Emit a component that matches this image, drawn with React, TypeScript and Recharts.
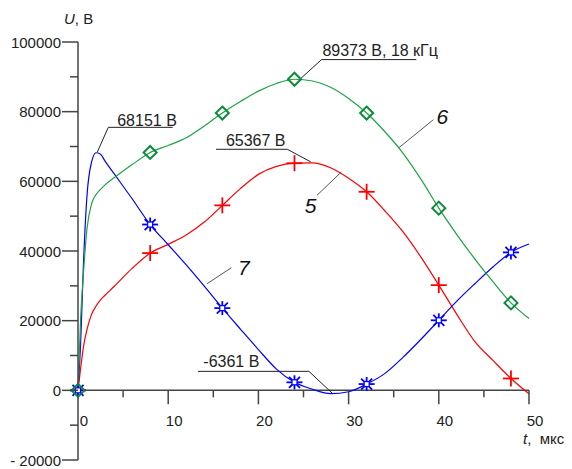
import React from 'react';
import { LineChart, Line, XAxis, YAxis, ReferenceLine, ReferenceDot } from 'recharts';

const times = [0, 0.3, 0.6, 1, 1.5, 2, 2.5, 3, 4, 6, 8, 10, 12, 14, 16, 18, 20, 22, 24, 26, 28, 30, 32, 34, 36, 38, 40, 42, 44, 46, 48, 50];
// curve 5 (red)
const curve5 = [0, 6500, 12400, 17500, 21800, 24200, 26000, 27300, 29800, 35000, 39400, 41900, 44600, 48300, 53100, 57900, 62000, 64300, 65200, 65300, 63900, 60900, 57000, 51600, 45600, 38300, 30200, 21800, 14000, 8600, 3400, -1000];
// curve 6 (green)
const curve6 = [0, 21000, 33500, 46500, 53500, 56200, 57700, 59000, 61000, 64800, 68300, 70300, 72500, 75900, 79600, 82900, 85900, 88100, 89300, 88800, 87000, 83800, 79600, 74300, 68200, 60700, 52300, 44700, 37700, 31200, 25100, 20600];
// curve 7 (blue)
const curve7 = [0, 14000, 36000, 56000, 65500, 68200, 67800, 65800, 62200, 55000, 47600, 41800, 36000, 29900, 23600, 17600, 11700, 6100, 2300, 300, -950, -400, 1800, 4800, 9400, 14600, 20100, 25600, 30600, 35400, 39600, 42000];
const markerTimes = [0, 8, 16, 24, 32, 40, 48];

const yTicks = [-20000, -10000, 0, 10000, 20000, 30000, 40000, 50000, 60000, 70000, 80000, 90000, 100000];
const yTickLabels = ['- 20000', '', '0', '', '20000', '', '40000', '', '60000', '', '80000', '', '100000'];
const xTicks = [0, 5, 10, 15, 20, 25, 30, 35, 40, 45, 50];
const xTickLabels = ['0', '', '10', '', '20', '', '30', '', '40', '', '50'];

const valueNotes = [
  { text: '68151 В', tx: 7.65, ty: 77500, x1: 3.36, x2: 10.5, y: 75500, fromX: 3.36, px: 2.14, py: 68400 },
  { text: '89373 В, 18 кГц', tx: 33.5, ty: 97600, x1: 27.0, x2: 37.5, y: 94950, fromX: 27.0, px: 24.6, py: 89300 },
  { text: '65367 В', tx: 19.7, ty: 71800, x1: 15.3, x2: 23.2, y: 69200, fromX: 23.2, px: 25.8, py: 65600 },
  { text: '-6361 В', tx: 17.0, ty: 8300, x1: 13.3, x2: 25.6, y: 5450, fromX: 25.6, px: 28.24, py: -950 },
];

const curveNotes = [
  { text: '6', tx: 40.4, ty: 78700, x1: 39.4, y1: 77700, x2: 35.6, y2: 69700 },
  { text: '5', tx: 25.8, ty: 53100, x1: 26.5, y1: 56000, x2: 29.2, y2: 62700 },
  { text: '7', tx: 18.4, ty: 35400, x1: 17.0, y1: 35200, x2: 14.3, y2: 30600 },
];

const FONT = '"Liberation Sans", Arial, sans-serif';

const isMarker = (t: number) => markerTimes.includes(t);

const redDot = (p: any) => {
  const { cx, cy, payload, index } = p;
  if (!isMarker(payload.t)) return <g key={'r' + index} />;
  return (
    <g key={'r' + index} stroke="#ff0000" strokeWidth={1.8}>
      <line x1={cx - 8} x2={cx + 8} y1={cy} y2={cy} />
      <line x1={cx} x2={cx} y1={cy - 8} y2={cy + 8} />
    </g>
  );
};

const greenDot = (p: any) => {
  const { cx, cy, payload, index } = p;
  if (!isMarker(payload.t)) return <g key={'g' + index} />;
  return (
    <path
      key={'g' + index}
      d={`M${cx},${cy - 6.5} L${cx + 6.5},${cy} L${cx},${cy + 6.5} L${cx - 6.5},${cy} Z`}
      fill="none"
      stroke="#0b8a3a"
      strokeWidth={2}
    />
  );
};

const blueDot = (p: any) => {
  const { cx, cy, payload, index } = p;
  if (!isMarker(payload.t)) return <g key={'b' + index} />;
  return (
    <g key={'b' + index} stroke="#0000ff" strokeWidth={1.8}>
      <line x1={cx - 8} x2={cx + 8} y1={cy} y2={cy} />
      <line x1={cx} x2={cx} y1={cy - 7} y2={cy + 7} />
      <line x1={cx - 5.5} x2={cx + 5.5} y1={cy - 5.5} y2={cy + 5.5} />
      <line x1={cx - 5.5} x2={cx + 5.5} y1={cy + 5.5} y2={cy - 5.5} />
      <rect x={cx - 2.5} y={cy - 2.5} width={5} height={5} fill="#ffffff" strokeWidth={1.2} />
    </g>
  );
};

const YTick = (props: any) => {
  const { x, y, payload, index } = props;
  const label = yTickLabels[yTicks.indexOf(payload.value)] || '';
  const major = label !== '';
  return (
    <g key={'yt' + index}>
      <line x1={x - (major ? 16 : 8)} x2={x} y1={y} y2={y} stroke="#444" strokeWidth={1.5} />
      {major && (
        <text x={x - 17} y={y} textAnchor="end" dominantBaseline="central" fontSize={15} fontFamily={FONT} fill="#222">
          {label}
        </text>
      )}
    </g>
  );
};

export default function App() {
  const data = times.map((t, i) => ({ t, s5: curve5[i], s6: curve6[i], s7: curve7[i] }));
  return (
    <div style={{ position: 'relative', width: 572, height: 469, fontFamily: FONT }}>
      <LineChart width={572} height={469} data={data} margin={{ top: 34, right: 51, bottom: 17, left: 0 }}>
        <XAxis dataKey="t" type="number" domain={[0, 50]} hide />
        <YAxis
          type="number"
          domain={[-20000, 100000]}
          ticks={yTicks}
          interval={0}
          width={70}
          tickSize={0}
          tickMargin={0}
          tickLine={false}
          axisLine={{ stroke: '#444', strokeWidth: 1.5 }}
          tick={(p: any) => <YTick {...p} />}
        />
        <ReferenceLine y={0} stroke="#444" strokeWidth={1.5} />
        {xTicks.map((v, i) => (
          <ReferenceDot
            key={'xt' + v}
            x={v}
            y={0}
            r={0}
            ifOverflow="visible"
            shape={(p: any) => (
              <g>
                {v !== 0 && (
                  <line x1={p.cx} x2={p.cx} y1={p.cy} y2={p.cy + (xTickLabels[i] ? 14 : 7)} stroke="#444" strokeWidth={1.5} />
                )}
                {xTickLabels[i] && (
                  <text x={p.cx + 6} y={p.cy + 30} textAnchor="middle" dominantBaseline="central" fontSize={15} fontFamily={FONT} fill="#222">
                    {xTickLabels[i]}
                  </text>
                )}
              </g>
            )}
          />
        ))}
        {valueNotes.map((n) => (
          <ReferenceLine key={'u' + n.text} segment={[{ x: n.x1, y: n.y }, { x: n.x2, y: n.y }]} stroke="#222" strokeWidth={1} ifOverflow="visible" />
        ))}
        {valueNotes.map((n) => (
          <ReferenceLine key={'l' + n.text} segment={[{ x: n.fromX, y: n.y }, { x: n.px, y: n.py }]} stroke="#222" strokeWidth={1} ifOverflow="visible" />
        ))}
        {curveNotes.map((n) => (
          <ReferenceLine key={'cl' + n.text} segment={[{ x: n.x1, y: n.y1 }, { x: n.x2, y: n.y2 }]} stroke="#555" strokeWidth={1} ifOverflow="visible" />
        ))}
        <Line type="monotone" dataKey="s5" stroke="#ff0000" strokeWidth={1.2} dot={redDot} activeDot={false} isAnimationActive={false} />
        <Line type="monotone" dataKey="s7" stroke="#0000ff" strokeWidth={1.2} dot={blueDot} activeDot={false} isAnimationActive={false} />
        <Line type="monotone" dataKey="s6" stroke="#1fa343" strokeWidth={1.2} dot={greenDot} activeDot={false} isAnimationActive={false} />
        {valueNotes.map((n) => (
          <ReferenceDot
            key={'t' + n.text}
            x={n.tx}
            y={n.ty}
            r={0}
            ifOverflow="visible"
            shape={(p: any) => (
              <text x={p.cx} y={p.cy} textAnchor="middle" dominantBaseline="central" fontSize={16} fontFamily={FONT} fill="#222">
                {n.text}
              </text>
            )}
          />
        ))}
        {curveNotes.map((n) => (
          <ReferenceDot
            key={'ct' + n.text}
            x={n.tx}
            y={n.ty}
            r={0}
            ifOverflow="visible"
            shape={(p: any) => (
              <text x={p.cx} y={p.cy} textAnchor="middle" dominantBaseline="central" fontSize={21} fontStyle="italic" fontFamily={FONT} fill="#111">
                {n.text}
              </text>
            )}
          />
        ))}
      </LineChart>
      <div style={{ position: 'absolute', left: 56, top: 2, fontSize: 15, color: '#222', lineHeight: '18px', whiteSpace: 'nowrap' }}>
        <i>U</i>, В
      </div>
      <div style={{ position: 'absolute', left: 515, top: 422, fontSize: 15, color: '#222', lineHeight: '18px', whiteSpace: 'nowrap' }}>
        <i>t</i>,&nbsp; мкс
      </div>
    </div>
  );
}
